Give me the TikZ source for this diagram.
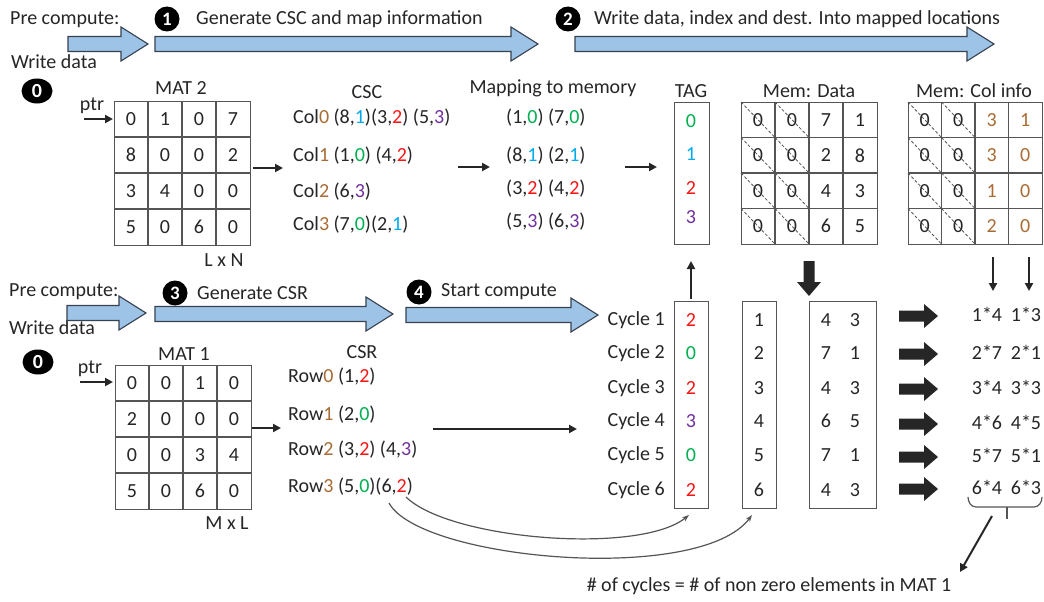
\documentclass[tikz,border=0pt]{standalone}
\usepackage{fontspec}
\setmainfont{Carlito}
\usetikzlibrary{arrows.meta,shapes.geometric,calc}
\definecolor{txtc}{RGB}{38,38,38}
\definecolor{gridc}{RGB}{85,85,85}
\definecolor{cbrown}{RGB}{168,108,52}
\definecolor{cgreen}{RGB}{0,176,80}
\definecolor{ccyan}{RGB}{0,170,235}
\definecolor{cred}{RGB}{250,20,20}
\definecolor{cpurple}{RGB}{112,48,160}
\definecolor{afill}{RGB}{157,195,230}
\definecolor{aline}{RGB}{55,65,80}
\newcommand\cB[1]{\textcolor{cbrown}{#1}}
\newcommand\cG[1]{\textcolor{cgreen}{#1}}
\newcommand\cC[1]{\textcolor{ccyan}{#1}}
\newcommand\cR[1]{\textcolor{cred}{#1}}
\newcommand\cP[1]{\textcolor{cpurple}{#1}}
\newcommand\fs{\fontsize{20}{24}\selectfont}
% blue block arrow: x start, x tip, y centre
\newcommand\bluearrow[3]{\draw[barrow] (#1,#3-7.5) -- (#2-27,#3-7.5) -- (#2-27,#3-17) -- (#2,#3) -- (#2-27,#3+17) -- (#2-27,#3+7.5) -- (#1,#3+7.5) -- cycle;}
% thick black arrow to the right: x start, x tip, y
\newcommand\thickR[3]{\fill[txtc] (#1,#3-5.5) -- (#2-14,#3-5.5) -- (#2-14,#3-12) -- (#2,#3) -- (#2-14,#3+12) -- (#2-14,#3+5.5) -- (#1,#3+5.5) -- cycle;}
% thick black arrow downwards: x, y start, y tip
\newcommand\thickD[3]{\fill[txtc] (#1-5.5,#2) -- (#1-5.5,#3-14) -- (#1-12,#3-14) -- (#1,#3) -- (#1+12,#3-14) -- (#1+5.5,#3-14) -- (#1+5.5,#2) -- cycle;}
% inner lines of a 4x4 grid: x0 y0 w h
\newcommand\innergrid[4]{\foreach \k in {1,2,3} {
  \draw[gridl] (#1+\k*#3,#2) -- (#1+\k*#3,#2+4*#4);
  \draw[gridl] (#1,#2+\k*#4) -- (#1+4*#3,#2+\k*#4);}}
% cell values: prefix x0 y0 w h {rows}
\newcommand\cellvals[6]{\foreach \rw [count=\r from 0] in {#6} {
  \foreach \v [count=\c from 0] in \rw {
    \node[txt] (#1-\r-\c) at (#2+#4*\c+#4/2, #3+#5*\r+#5/2) {\v};}}}
\newcommand\diags[4]{\foreach \r in {0,1,2,3} {\foreach \c in {0,1} {
  \draw[diagl] (#1+#3*\c,#2+#4*\r) -- (#1+#3*\c+#3,#2+#4*\r+#4);}}}
\begin{document}
\begin{tikzpicture}[x=1pt,y=-1pt,
  txt/.style={inner sep=0pt, text=txtc, font=\fs},
  gridl/.style={draw=gridc, line width=1.2pt},
  boxn/.style={draw=gridc, line width=1.2pt, inner sep=0pt, anchor=north west},
  diagl/.style={draw=gridc, line width=0.8pt, dash pattern=on 3pt off 2pt},
  barrow/.style={fill=afill, draw=aline, line width=1.1pt, line join=miter},
  numc/.style={circle, fill=black, text=white, inner sep=0pt, minimum size=25pt, font=\fontsize{19}{19}\selectfont\bfseries},
  zeroc/.style={ellipse, fill=black, text=white, inner sep=0pt, minimum width=31pt, minimum height=25pt, font=\fontsize{20}{20}\selectfont\bfseries},
  conn/.style={draw=txtc, line width=2pt, -{Triangle[length=8pt,width=8pt]}},
  curv/.style={draw=gridc, line width=1.2pt, -{Stealth[length=7pt,width=5pt]}},
]
\useasboundingbox (0,0) rectangle (1044,602);
\fill[white] (0,0) rectangle (1044,602);

% ---------------- top band ----------------
\node[txt, anchor=west] (pc1) at (10,20) {Pre compute:};
\node[txt, anchor=west] (wd1) at (11,62) {Write data};
\bluearrow{68}{148}{44}
\bluearrow{155}{538}{44}
\bluearrow{575}{994}{44}
\node[numc] (n1) at (167,19) {1};
\node[txt, anchor=west] (t1) at (196,19) {Generate CSC and map information};
\node[numc] (n2) at (568,19) {2};
\node[txt, anchor=west] (t2) at (594,19) {Write data, index and dest. Into mapped locations};

% ---------------- MAT 2 ----------------
\node[zeroc] (z1) at (37,91) {0};
\node[txt] (mat2t) at (181,88) {MAT 2};
\node[boxn, minimum width=136pt, minimum height=144pt] (mat2) at (114,101) {};
\innergrid{114}{101}{34}{36}
\cellvals{m2}{114}{101}{34}{36}{{0,1,0,7},{8,0,0,2},{3,4,0,0},{5,0,6,0}}
\node[txt] (lxn) at (224,260) {L x N};
\node[txt] (ptr2) at (92,106) {ptr};
\coordinate (p2a) at (84,119); \coordinate (p2b) at (113,119);
\draw[conn] (p2a) -- (p2b);

% ---------------- CSC ----------------
\node[txt] (csct) at (367,92) {CSC};
\node[txt, anchor=west] (csc0) at (293,118) {Col\cB{0} (8,\cC{1})(3,\cR{2}) (5,\cP{3})};
\node[txt, anchor=west] (csc1) at (293,156) {Col\cB{1} (1,\cG{0}) (4,\cR{2})};
\node[txt, anchor=west] (csc2) at (293,192) {Col\cB{2} (6,\cP{3})};
\node[txt, anchor=west] (csc3) at (293,225) {Col\cB{3} (7,\cG{0})(2,\cC{1})};
\coordinate (a1s) at (253,168); \coordinate (a1e) at (283,168);
\draw[conn] (a1s) -- (a1e);

% ---------------- mapping ----------------
\node[txt] (mapt) at (553,88) {Mapping to memory};
\node[txt, anchor=west] (mp0) at (506,118) {(1,\cG{0}) (7,\cG{0})};
\node[txt, anchor=west] (mp1) at (506,156) {(8,\cC{1}) (2,\cC{1})};
\node[txt, anchor=west] (mp2) at (506,189) {(3,\cR{2}) (4,\cR{2})};
\node[txt, anchor=west] (mp3) at (506,222) {(5,\cP{3}) (6,\cP{3})};
\coordinate (a2s) at (458,167); \coordinate (a2e) at (490,167);
\draw[conn] (a2s) -- (a2e);
\coordinate (a3s) at (625,167); \coordinate (a3e) at (657,167);
\draw[conn] (a3s) -- (a3e);

% ---------------- TAG ----------------
\node[txt] (tagt) at (691,91) {TAG};
\node[boxn, minimum width=35pt, minimum height=142pt] (tag) at (674,102) {};
\node[txt] (tg0) at (691,121) {\cG{0}};
\node[txt] (tg1) at (691,154) {\cC{1}};
\node[txt] (tg2) at (691,188) {\cR{2}};
\node[txt] (tg3) at (691,217) {\cP{3}};

% ---------------- Mem: Data ----------------
\node[txt] (mdt) at (809,91) {Mem: Data};
\node[boxn, minimum width=136pt, minimum height=142pt] (memd) at (741,102) {};
\innergrid{741}{102}{34}{35.5}
\diags{741}{102}{34}{35.5}
\cellvals{md}{741}{102}{34}{35.5}{{0,0,7,1},{0,0,2,8},{0,0,4,3},{0,0,6,5}}

% ---------------- Mem: Col info ----------------
\node[txt] (mct) at (974,91) {Mem: Col info};
\node[boxn, minimum width=134pt, minimum height=142pt] (memc) at (908,102) {};
\innergrid{908}{102}{33.5}{35.5}
\diags{908}{102}{33.5}{35.5}
\cellvals{mc}{908}{102}{33.5}{35.5}{{0,0,\cB{3},\cB{1}},{0,0,\cB{3},\cB{0}},{0,0,\cB{1},\cB{0}},{0,0,\cB{2},\cB{0}}}

% arrows between the two halves
\coordinate (ua) at (691,299); \coordinate (ub) at (691,261);
\draw[conn] (ua) -- (ub);
\thickD{809}{261}{296}
\coordinate (c1a) at (993,257); \coordinate (c1b) at (993,291);
\coordinate (c2a) at (1029,257); \coordinate (c2b) at (1029,291);
\draw[conn] (c1a) -- (c1b);
\draw[conn] (c2a) -- (c2b);

% ---------------- second band ----------------
\node[txt, anchor=west] (pc2) at (9,292) {Pre compute:};
\node[txt, anchor=west] (wd2) at (9,328) {Write data};
\bluearrow{67}{146}{313}
\bluearrow{155}{393}{314}
\bluearrow{406}{598}{315}
\node[numc] (n3) at (175,293) {3};
\node[txt, anchor=west] (t3) at (197,293) {Generate CSR};
\node[numc] (n4) at (419,292) {4};
\node[txt, anchor=west] (t4) at (441,292) {Start compute};

% ---------------- MAT 1 ----------------
\node[zeroc] (z2) at (38,362) {0};
\node[txt] (mat1t) at (184,354) {MAT 1};
\node[boxn, minimum width=136pt, minimum height=144pt] (mat1) at (115,365) {};
\innergrid{115}{365}{34}{36}
\cellvals{m1}{115}{365}{34}{36}{{0,0,1,0},{2,0,0,0},{0,0,3,4},{5,0,6,0}}
\node[txt] (mxl) at (227,523) {M x L};
\node[txt] (ptr1) at (90,369) {ptr};
\coordinate (p1a) at (80,382); \coordinate (p1b) at (113,382);
\draw[conn] (p1a) -- (p1b);

% ---------------- CSR ----------------
\node[txt] (csrt) at (362,352) {CSR};
\node[txt, anchor=west] (r0) at (288,377) {Row\cB{0} (1,\cR{2})};
\node[txt, anchor=west] (r1) at (288,415) {Row\cB{1} (2,\cG{0})};
\node[txt, anchor=west] (r2) at (288,450) {Row\cB{2} (3,\cR{2}) (4,\cP{3})};
\node[txt, anchor=west] (r3) at (288,487) {Row\cB{3} (5,\cG{0})(6,\cR{2})};
\coordinate (b1s) at (252,428); \coordinate (b1e) at (281,428);
\draw[conn] (b1s) -- (b1e);
\coordinate (b2s) at (433,429); \coordinate (b2e) at (577,429);
\draw[conn] (b2s) -- (b2e);

% ---------------- compute columns ----------------
\node[boxn, minimum width=34pt, minimum height=207pt] (tagcol) at (674,301) {};
\node[boxn, minimum width=34pt, minimum height=207pt] (idxcol) at (742,301) {};
\node[boxn, minimum width=67pt, minimum height=207pt] (datcol) at (809,301) {};
\foreach \y/\tg/\da/\db/\ry [count=\i] in {320/\cR{2}/4/3/314, 353/\cG{0}/7/1/352, 388/\cR{2}/4/3/387, 421/\cP{3}/6/5/422, 455/\cG{0}/7/1/455, 490/\cR{2}/4/3/487} {
  \node[txt, anchor=east] (cy\i) at (665,\y) {Cycle \i};
  \node[txt] (tgv\i) at (691,\y) {\tg};
  \node[txt] (ixv\i) at (759,\y) {\i};
  \node[txt] (dav\i) at (826,\y) {\da};
  \node[txt] (dbv\i) at (855,\y) {\db};
  \thickR{899}{938}{\ry+2}
  \node[txt] (ra\i) at (987,\ry) {\i*\da};
  \node[txt] (rb\i) at (1026,\ry) {\i*\db};
}

% curves from Row3 (6,2)
\coordinate (s2) at (406,497);
\coordinate (s6) at (389,503);
\coordinate (e2) at (689,515);
\coordinate (e6) at (752,515);
\draw[curv] (s2) .. controls (450,540) and (640,555) .. (e2);
\draw[curv] (s6) .. controls (420,560) and (700,585) .. (e6);

% brace and note
\draw[draw=gridc, line width=1.2pt] (968,497) to[out=-90,in=180] (976,507) -- (1034,507) to[out=0,in=-90] (1042,497);
\draw[draw=gridc, line width=1.2pt] (1007,507) -- (1007,519);
\node[txt] (note) at (769,586) {\# of cycles = \# of non zero elements in MAT 1};
\coordinate (bra) at (992,516); \coordinate (brb) at (960,572);
\draw[conn] (bra) -- (brb);
\end{tikzpicture}
\end{document}
